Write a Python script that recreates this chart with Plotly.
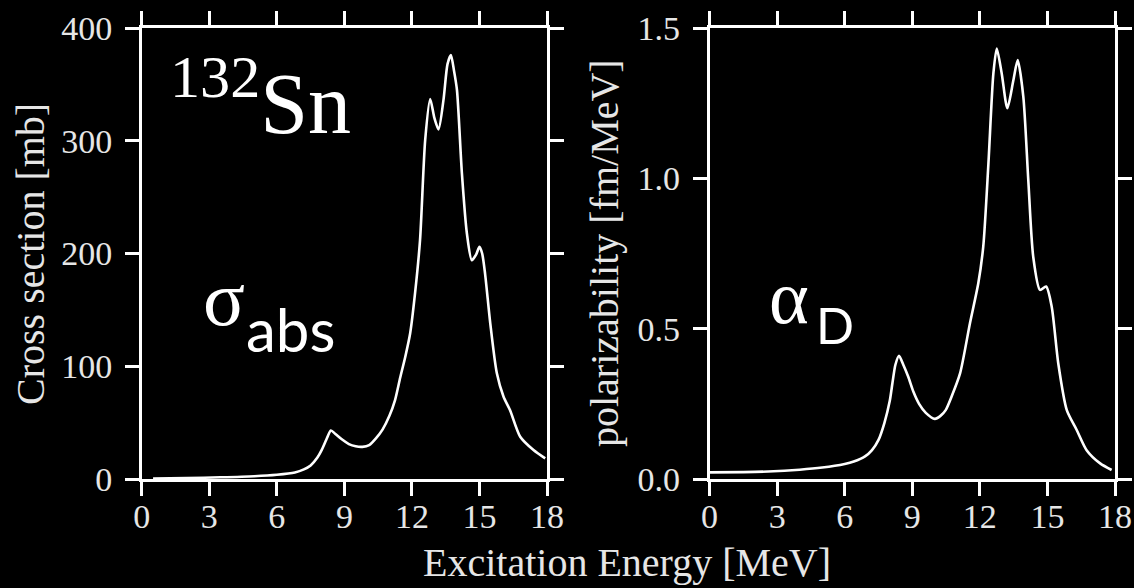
import plotly.graph_objects as go

# ---------------- data ----------------
E_sigma = [0.5, 2.0, 3.5, 5.0, 6.0, 6.8, 7.2, 7.5, 7.8, 8.0, 8.2, 8.4, 8.6, 8.9, 9.2, 9.5,
           9.8, 10.1, 10.4, 10.7, 11.0, 11.25, 11.48, 11.7, 11.92, 12.14, 12.36, 12.59,
           12.81, 13.0, 13.18, 13.4, 13.58, 13.73, 13.87, 14.0, 14.22, 14.44, 14.66,
           14.85, 15.0, 15.12, 15.25, 15.48, 15.77, 16.07, 16.36, 16.81, 17.4, 17.92]
sigma_abs = [0.3, 0.8, 1.5, 2.5, 3.8, 5.8, 8.5, 12, 19, 26, 35, 43, 40, 35, 31, 29,
             28.5, 30, 36, 44, 56, 70, 90, 108, 129, 165, 212, 301,
             337, 320, 310, 336, 368, 376, 362, 345, 271, 218, 194,
             199, 206, 200, 182, 138, 94, 73, 61, 37.5, 25.7, 18.3]

E_alpha = [0.0, 1.5, 2.6, 4.0, 5.0, 6.0, 6.4, 6.9, 7.21, 7.5, 7.76, 8.0, 8.12, 8.25,
           8.41, 8.6, 8.82, 9.05, 9.3, 9.6, 10.0, 10.25, 10.49, 10.75, 11.12, 11.56,
           11.93, 12.15, 12.38, 12.6, 12.75, 12.97, 13.22, 13.49, 13.68, 13.93, 14.15,
           14.37, 14.67, 14.94, 15.19, 15.48, 15.86, 16.3, 16.74, 17.34, 17.85]
alpha_D = [0.022, 0.023, 0.025, 0.031, 0.038, 0.05, 0.058, 0.075, 0.096, 0.13, 0.186,
           0.26, 0.32, 0.38, 0.41, 0.38, 0.34, 0.29, 0.25, 0.22, 0.20, 0.21, 0.23,
           0.275, 0.351, 0.518, 0.651, 0.773, 1.05, 1.349, 1.432, 1.349, 1.233, 1.327,
           1.393, 1.271, 0.994, 0.739, 0.629, 0.64, 0.573, 0.385, 0.229, 0.163, 0.096,
           0.052, 0.030]

x_ticks = [0, 3, 6, 9, 12, 15, 18]
y1_ticks = [0, 100, 200, 300, 400]
y2_ticks = [0.0, 0.5, 1.0, 1.5]
y2_ticklabels = ["0.0", "0.5", "1.0", "1.5"]

W, H = 1134, 588
FG = "#ffffff"
TXT = "#e6e6e6"
SERIF = "Liberation Serif"
SANS = "Lato"


def px(x):
    return x / W


def py(y):
    return 1 - y / H


fig = go.Figure()
fig.add_trace(go.Scatter(x=E_sigma, y=sigma_abs, mode="lines",
                         line=dict(color=FG, width=2.6, shape="spline", smoothing=0.7),
                         xaxis="x", yaxis="y", showlegend=False, hoverinfo="skip"))
fig.add_trace(go.Scatter(x=E_alpha, y=alpha_D, mode="lines",
                         line=dict(color=FG, width=2.6, shape="spline", smoothing=0.7),
                         xaxis="x2", yaxis="y2", showlegend=False, hoverinfo="skip"))

axis_common = dict(
    showline=True, linecolor=FG, linewidth=2.5, mirror="ticks",
    ticks="outside", ticklen=14, tickwidth=2.5, tickcolor=FG,
    showgrid=False, zeroline=False,
    tickfont=dict(family=SERIF, size=34, color=TXT),
    automargin=False, fixedrange=True,
)

fig.update_layout(
    width=W, height=H,
    paper_bgcolor="black", plot_bgcolor="black",
    margin=dict(l=0, r=0, t=0, b=0),
    xaxis=dict(domain=[px(141.8), px(547)], range=[0, 18], tickvals=x_ticks,
               anchor="y", ticklabelstandoff=-9, **axis_common),
    yaxis=dict(domain=[py(479), py(28)], range=[0, 400], tickvals=y1_ticks,
               anchor="x", ticklabelstandoff=6, **axis_common),
    xaxis2=dict(domain=[px(709.6), px(1115)], range=[0, 18], tickvals=x_ticks,
                anchor="y2", ticklabelstandoff=-9, **axis_common),
    yaxis2=dict(domain=[py(479), py(28)], range=[0, 1.5], tickvals=y2_ticks,
                ticktext=y2_ticklabels, anchor="x2", ticklabelstandoff=6, **axis_common),
)

annotations = [
    # axis titles
    dict(text="Cross section [mb]", x=px(31), y=py(254), textangle=-90,
         font=dict(family=SERIF, size=40, color=TXT)),
    dict(text="polarizability [fm/MeV]", x=px(604), y=py(253), textangle=-90,
         font=dict(family=SERIF, size=40, color=TXT)),
    dict(text="Excitation Energy [MeV]", x=px(627), y=py(562),
         font=dict(family=SERIF, size=40, color=TXT)),
    # panel labels
    dict(text="<sup>132</sup>Sn", x=px(168), y=py(97), xanchor="left",
         font=dict(family=SERIF, size=86, color=FG)),
    dict(text="σ", x=px(224), y=py(298), font=dict(family=SERIF, size=78, color=FG)),
    dict(text="abs", x=px(290), y=py(329), font=dict(family=SANS, size=60, color=FG)),
    dict(text="α", x=px(789), y=py(297), font=dict(family=SERIF, size=76, color=FG)),
    dict(text="D", x=px(835), y=py(325), font=dict(family=SANS, size=50, color=FG)),
]
for a in annotations:
    a.setdefault("xanchor", "center")
    a.setdefault("yanchor", "middle")
    fig.add_annotation(xref="paper", yref="paper", showarrow=False, **a)

fig.write_html("out.html", config={"displayModeBar": False})
